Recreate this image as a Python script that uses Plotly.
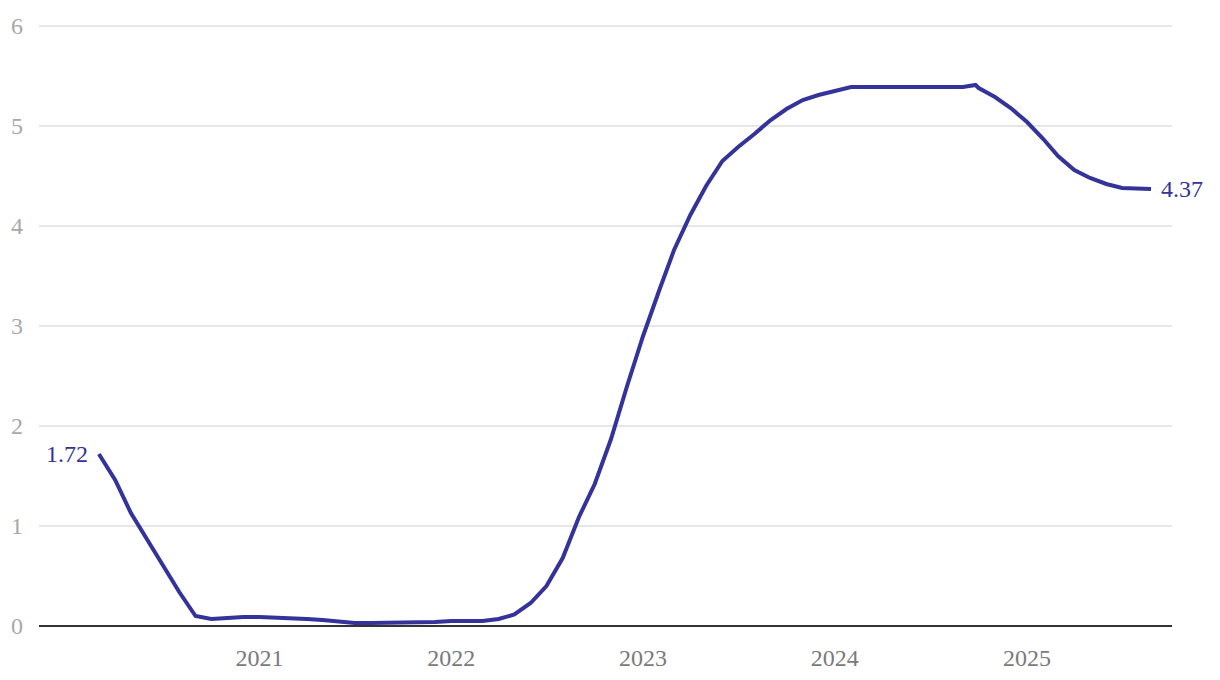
import plotly.graph_objects as go

dates = [
    "2020-03-01", "2020-04-01", "2020-05-01", "2020-06-01", "2020-07-01", "2020-08-01",
    "2020-09-01", "2020-10-01", "2020-11-01", "2020-12-01", "2021-01-01", "2021-02-01",
    "2021-03-01", "2021-04-01", "2021-05-01", "2021-06-01", "2021-07-01", "2021-08-01",
    "2021-09-01", "2021-10-01", "2021-11-01", "2021-12-01", "2022-01-01", "2022-02-01",
    "2022-03-01", "2022-04-01", "2022-05-01", "2022-06-01", "2022-07-01", "2022-08-01",
    "2022-09-01", "2022-10-01", "2022-11-01", "2022-12-01", "2023-01-01", "2023-02-01",
    "2023-03-01", "2023-04-01", "2023-05-01", "2023-06-01", "2023-07-01", "2023-08-01",
    "2023-09-01", "2023-10-01", "2023-11-01", "2023-12-01", "2024-01-01", "2024-02-01",
    "2024-03-01", "2024-04-01", "2024-05-01", "2024-06-01", "2024-07-01", "2024-08-01",
    "2024-09-01", "2024-09-25", "2024-10-01", "2024-11-01", "2024-12-01", "2025-01-01",
    "2025-02-01", "2025-03-01", "2025-04-01", "2025-05-01", "2025-06-01", "2025-07-01",
    "2025-08-01", "2025-08-25",
]
rates = [
    1.72, 1.46, 1.13, 0.86, 0.60, 0.34,
    0.10, 0.07, 0.08, 0.09, 0.09, 0.085,
    0.08, 0.07, 0.06, 0.04, 0.03, 0.03,
    0.03, 0.03, 0.04, 0.04, 0.05, 0.05,
    0.05, 0.07, 0.115, 0.23, 0.40, 0.68,
    1.09, 1.42, 1.87, 2.39, 2.90, 3.36,
    3.76, 4.11, 4.40, 4.65, 4.79, 4.92,
    5.06, 5.17, 5.26, 5.31, 5.35, 5.39,
    5.39, 5.39, 5.39, 5.39, 5.39, 5.39,
    5.39, 5.41, 5.38, 5.29, 5.18, 5.04,
    4.87, 4.70, 4.56, 4.48, 4.42, 4.38,
    4.38, 4.37,
]
y_ticks = [0, 1, 2, 3, 4, 5, 6]
x_ticks = ["2021-01-01", "2022-01-01", "2023-01-01", "2024-01-01", "2025-01-01"]
x_tick_labels = ["2021", "2022", "2023", "2024", "2025"]
start_label = "1.72"
end_label = "4.37"

LINE = "#333399"
FONT = "Liberation Serif"

fig = go.Figure()
fig.add_trace(go.Scatter(
    x=dates, y=rates, mode="lines",
    line=dict(color=LINE, width=4),
    hoverinfo="skip", showlegend=False,
))

fig.add_annotation(x=dates[0], y=rates[0], text=start_label, showarrow=False,
                   xanchor="right", yanchor="middle", xshift=-9,
                   font=dict(family=FONT, size=24, color=LINE))
fig.add_annotation(x=dates[-1], y=rates[-1], text=end_label, showarrow=False,
                   xanchor="left", yanchor="middle", xshift=8,
                   font=dict(family=FONT, size=24, color=LINE))

fig.update_layout(
    width=1220, height=680,
    margin=dict(l=31, r=56, t=12, b=62),
    paper_bgcolor="white", plot_bgcolor="white",
    font=dict(family=FONT),
    xaxis=dict(
        type="date",
        range=["2019-11-08", "2025-10-04"],
        tickmode="array", tickvals=x_ticks, ticktext=x_tick_labels,
        showgrid=False, zeroline=False, showline=False, ticks="",
        tickfont=dict(family=FONT, size=24, color="#7a7a7a"),
        ticklabelstandoff=15, automargin=False,
    ),
    yaxis=dict(
        range=[0, 6.06],
        tickmode="array", tickvals=y_ticks,
        showgrid=True, gridcolor="#e6e6e6", gridwidth=1.5,
        zeroline=True, zerolinecolor="#333333", zerolinewidth=2,
        showline=False, ticks="",
        tickfont=dict(family=FONT, size=24, color="#a8a8a8"),
        ticklabelstandoff=15, automargin=False,
    ),
)

fig.write_html("out.html")
